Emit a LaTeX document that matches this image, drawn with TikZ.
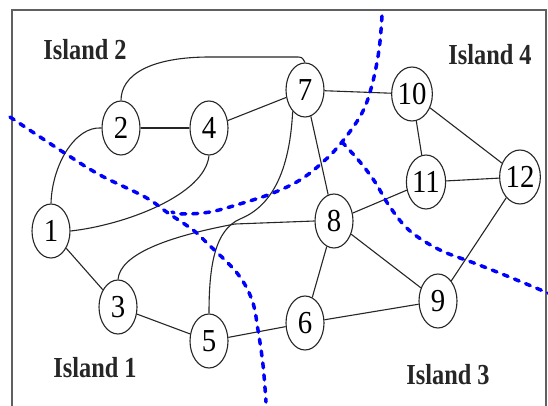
\documentclass[tikz,border=0pt]{standalone}
\usepackage{fontspec}
\setmainfont{Liberation Serif}
\newfontfamily\numfont{Liberation Serif}[FakeStretch=0.9]
\newfontfamily\islfont{Liberation Serif}[FakeStretch=0.84]
\usetikzlibrary{shapes.geometric}
\begin{document}
\begin{tikzpicture}[x=1pt,y=-1pt,
  bus/.style={draw=black!85,line width=1.1pt,ellipse,minimum width=38pt,minimum height=54pt,inner sep=0pt,font=\numfont\fontsize{32}{32}\selectfont},
  edge/.style={draw=black!85,line width=1.1pt},
  cut/.style={draw=blue,line width=3.5pt,line cap=round,dash pattern=on 5pt off 7pt},
  isl/.style={font=\islfont\bfseries\fontsize{29}{29}\selectfont,text=black!85,inner sep=0pt}]
\useasboundingbox (0,0) rectangle (548,406);
\fill[white] (0,0) rectangle (548,406);
% frame
\draw[gray!75!black,line width=2pt] (12,406) -- (12,10) -- (546,10) -- (546,406);
% buses
\node[bus] (n1) at (51,231) {1};
\node[bus] (n2) at (121,128) {2};
\node[bus] (n3) at (118,307) {3};
\node[bus] (n4) at (209,128) {4};
\node[bus] (n5) at (209,341) {5};
\node[bus] (n6) at (305,323) {6};
\node[bus] (n7) at (305,90) {7};
\node[bus] (n8) at (334,221) {8};
\node[bus] (n9) at (438,301) {9};
\node[bus] (n10) at (412,94) {10};
\node[bus] (n11) at (426,182) {11};
\node[bus] (n12) at (520,177) {12};
% island labels
\node[isl] (i2) at (85,50) {Island 2};
\node[isl] (i4) at (490,55) {Island 4};
\node[isl] (i1) at (95,368) {Island 1};
\node[isl] (i3) at (448,375) {Island 3};
% straight lines
\draw[edge] (n2) -- (n4);
\draw[edge] (n4) -- (n7);
\draw[edge] (n1) -- (n3);
\draw[edge] (n3) -- (n5);
\draw[edge] (n5) -- (n6);
\draw[edge] (n6) -- (n9);
\draw[edge] (n6) -- (n8);
\draw[edge] (n8) -- (n9);
\draw[edge] (n9) -- (n12);
\draw[edge] (n8) -- (n11);
\draw[edge] (n11) -- (n12);
\draw[edge] (n10) -- (n11);
\draw[edge] (n10) -- (n12);
\draw[edge] (n7) -- (n10);
\draw[edge] (n7) -- (n8);
% curved lines
\draw[edge] (n2.north) .. controls (121,75) and (150,57) .. (210,57) -- (295,57) .. controls (302,57) .. (n7.north);
\draw[edge] (n2.west) .. controls (75,126) and (52,165) .. (n1.north);
\draw[edge] (n1.east) .. controls (125,225) and (205,195) .. (n4.south);
\draw[edge] (n3.north) .. controls (120,255) and (165,237) .. (235,224) -- (n8.west);
\draw[edge] (n5.north) .. controls (209,265) and (215,230) .. (240,219) .. controls (275,205) and (290,165) .. (n7.240);
% cut lines
\draw[cut] plot[smooth,tension=0.6] coordinates {(10,117) (63,152) (100,175) (145,197) (168,213) (193,230) (207,243) (237,273) (252,300) (258,330) (263,365) (266,402)};
\draw[cut] plot[smooth,tension=0.6] coordinates {(382,16) (379,50) (372,85) (362,113) (342,142) (323,162) (300,180) (273,193) (243,203) (210,212) (182,214) (172,212)};
\draw[cut] plot[smooth,tension=0.6] coordinates {(342,142) (360,162) (375,182) (390,207) (410,231) (440,250) (474,263) (507,276) (548,293)};
\end{tikzpicture}
\end{document}
